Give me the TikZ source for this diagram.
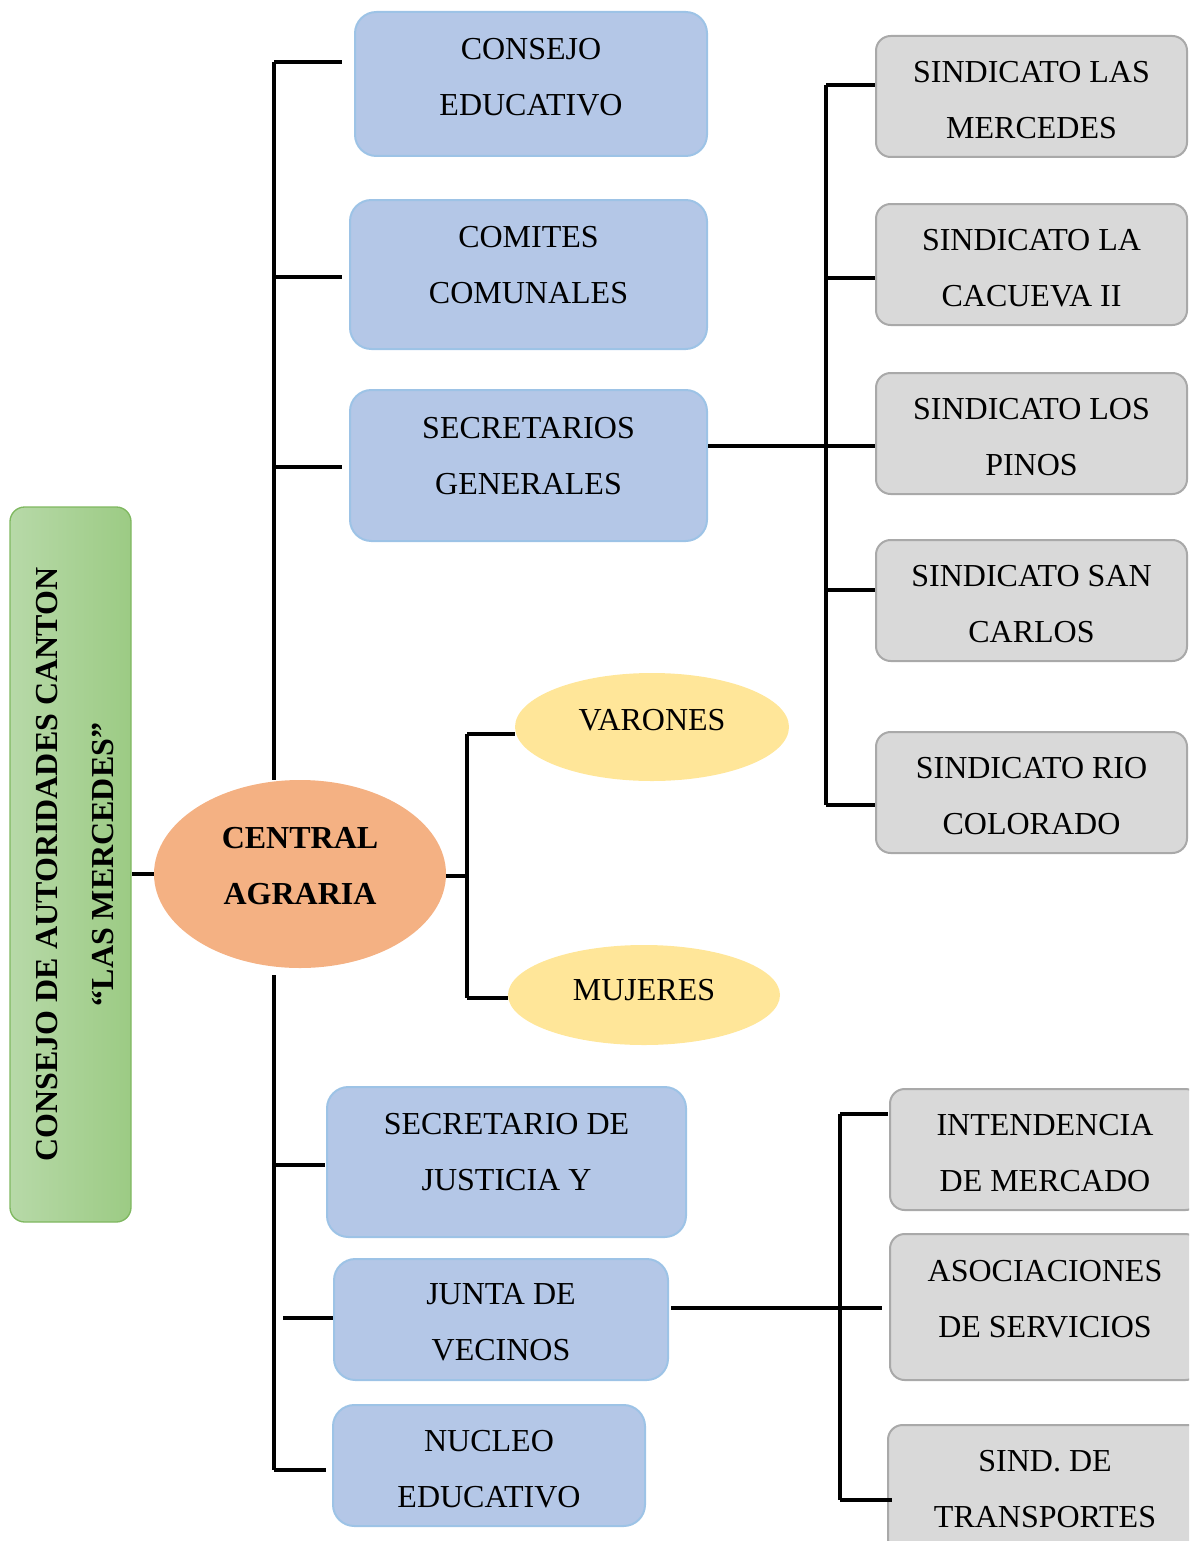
\documentclass[tikz,border=0pt]{standalone}
\usepackage{fontspec}
\setmainfont{Liberation Serif}
\usetikzlibrary{shapes.geometric}
\definecolor{bluefill}{HTML}{B4C7E7}
\definecolor{blueline}{HTML}{9DC3E6}
\definecolor{grayfill}{HTML}{D9D9D9}
\definecolor{grayline}{HTML}{A9A9A9}
\definecolor{orangefill}{HTML}{F4B183}
\definecolor{yellowfill}{HTML}{FFE699}
\definecolor{greenlight}{HTML}{B7D9A8}
\definecolor{greendark}{HTML}{9CCB84}
\definecolor{greenline}{HTML}{7FB860}
% two-line text with struts controlling vertical placement (T = top strut, B = bottom strut, in pt)
\newcommand\twolines[4]{\rule{0pt}{#1pt}#3\\#4\rule[-#2pt]{0pt}{#2pt}}
\newcommand\onelinetxt[3]{\rule{0pt}{#1pt}#3\rule[-#2pt]{0pt}{#2pt}}
\begin{document}
\begin{tikzpicture}[x=0.75pt,y=-0.75pt,
  txt/.style={font=\fontsize{24}{42}\selectfont, align=center, text=black},
  btxt/.style={font=\fontsize{24}{42}\selectfont\bfseries, align=center, text=black},
  bluebox/.style={txt, draw=blueline, line width=1.5pt, fill=bluefill, rounded corners=16pt, inner sep=0pt},
  graybox/.style={txt, draw=grayline, line width=1.5pt, fill=grayfill, rounded corners=11pt, inner sep=0pt,
                  minimum height=90.75pt},
  oval/.style={ellipse, inner sep=0pt},
  conn/.style={line width=2.4pt, black},
]
\useasboundingbox (0,0) rectangle (1189,1541);
\clip (0,0) rectangle (1189,1541);

% green title box
\node[btxt, draw=greenline, line width=1pt, rounded corners=11pt,
      left color=greenlight, right color=greendark, rotate=90,
      minimum width=536.25pt, minimum height=90.75pt, inner sep=0pt]
      (gb) at (70.5,864.5) {\twolines{28}{6}{CONSEJO DE AUTORIDADES CANTON}{“LAS MERCEDES”}};

% central node
\node[oval, btxt, fill=orangefill, minimum width=219pt, minimum height=141pt]
      (ca) at (300,874) {\twolines{22}{18}{CENTRAL}{AGRARIA}};

% yellow ovals
\node[oval, txt, fill=yellowfill, minimum width=205.5pt, minimum height=81pt]
      (var) at (652,727) {\onelinetxt{22}{16.5}{VARONES}};
\node[oval, txt, fill=yellowfill, minimum width=204pt, minimum height=75pt]
      (muj) at (644,995) {\onelinetxt{22}{13.5}{MUJERES}};

% blue boxes
\node[bluebox, minimum width=264pt, minimum height=108pt] (ce) at (531,84)
      {\twolines{22}{16.5}{CONSEJO}{EDUCATIVO}};
\node[bluebox, minimum width=267.75pt, minimum height=111.75pt] (cc) at (528.5,274.5)
      {\twolines{22}{20}{COMITES}{COMUNALES}};
\node[bluebox, minimum width=267.75pt, minimum height=113.25pt] (sg) at (528.5,465.5)
      {\twolines{22}{20}{SECRETARIOS}{GENERALES}};
\node[bluebox, minimum width=269.25pt, minimum height=112.5pt] (sj) at (506.5,1162)
      {\twolines{22}{21}{SECRETARIO DE}{JUSTICIA Y}};
\node[bluebox, minimum width=250.5pt, minimum height=90.75pt] (jv) at (501,1319.5)
      {\twolines{26}{6}{JUNTA DE}{VECINOS}};
\node[bluebox, minimum width=234pt, minimum height=90.75pt] (ne) at (489,1465.5)
      {\twolines{27}{6}{NUCLEO}{EDUCATIVO}};

% gray boxes (top right)
\node[graybox, minimum width=233.25pt] (s1) at (1031.5,96.5)  {\twolines{27}{6}{SINDICATO LAS}{MERCEDES}};
\node[graybox, minimum width=233.25pt] (s2) at (1031.5,264.5) {\twolines{27}{6}{SINDICATO LA}{CACUEVA II}};
\node[graybox, minimum width=233.25pt] (s3) at (1031.5,433.5) {\twolines{27}{6}{SINDICATO LOS}{PINOS}};
\node[graybox, minimum width=233.25pt] (s4) at (1031.5,600.5) {\twolines{27}{6}{SINDICATO SAN}{CARLOS}};
\node[graybox, minimum width=233.25pt] (s5) at (1031.5,792.5) {\twolines{27}{6}{SINDICATO RIO}{COLORADO}};

% gray boxes (bottom right)
\node[graybox, minimum width=232.5pt] (b1) at (1045,1149.5) {\twolines{26.5}{6}{INTENDENCIA}{DE MERCADO}};
\node[graybox, minimum width=232.5pt, minimum height=109.5pt] (b2) at (1045,1307) {\twolines{22}{18}{ASOCIACIONES}{DE SERVICIOS}};
\node[graybox, minimum width=235.5pt, minimum height=96pt] (b3) at (1045,1489) {\twolines{22}{6}{SIND. DE}{TRANSPORTES}};

% ---- connectors ----
% title to central
\draw[conn] (ca.west) -- (ca.west -| gb.south);

% left trunk (upper)
\coordinate (lt1) at (274,62);
\coordinate (lt2) at (274,277);
\coordinate (lt3) at (274,467);
\coordinate (lte1) at (342,62);
\coordinate (lte2) at (342,277);
\coordinate (lte3) at (342,467);
\draw[conn] (lt1) -- (lt1 |- ca.north);
\draw[conn] (lt1) -- (lte1);
\draw[conn] (lt2) -- (lte2);
\draw[conn] (lt3) -- (lte3);

% left trunk (lower)
\coordinate (lb0) at (274,975);
\coordinate (lb1) at (274,1165);
\coordinate (lb3) at (274,1470);
\coordinate (lbe1) at (325,1165);
\coordinate (lbs2) at (283,1318);
\coordinate (lbe2) at (333,1318);
\coordinate (lbe3) at (326,1470);
\draw[conn] (lb0) -- (lb3);
\draw[conn] (lb1) -- (lbe1);
\draw[conn] (lbs2) -- (lbe2);
\draw[conn] (lb3) -- (lbe3);

% central to varones / mujeres
\coordinate (vj) at (467,876);
\coordinate (vjt) at (467,734);
\coordinate (vjb) at (467,998);
\draw[conn] (ca.east |- vj) -- (vj);
\draw[conn] (vjt) -- (vjb);
\draw[conn] (vjt) -- (vjt -| var.west);
\draw[conn] (vjb) -- (vjb -| muj.west);

% secretarios generales to sindicatos
\coordinate (rj) at (826,446);
\coordinate (rt) at (826,85);
\coordinate (r2) at (826,278);
\coordinate (r4) at (826,590);
\coordinate (rb) at (826,805);
\draw[conn] (rj -| sg.east) -- (rj -| s3.west);
\draw[conn] (rt) -- (rb);
\draw[conn] (rt) -- (rt -| s1.west);
\draw[conn] (r2) -- (r2 -| s2.west);
\draw[conn] (r4) -- (r4 -| s4.west);
\draw[conn] (rb) -- (rb -| s5.west);

% junta de vecinos to right
\coordinate (qj) at (840,1308);
\coordinate (qe) at (882,1308);
\coordinate (qt) at (840,1114);
\coordinate (qte) at (888,1114);
\coordinate (qb) at (840,1500);
\coordinate (qbe) at (892,1500);
\draw[conn] ([xshift=1.5pt]qj -| jv.east) -- (qe);
\draw[conn] (qt) -- (qb);
\draw[conn] (qt) -- (qte);
\draw[conn] (qb) -- (qbe);
\end{tikzpicture}
\end{document}
